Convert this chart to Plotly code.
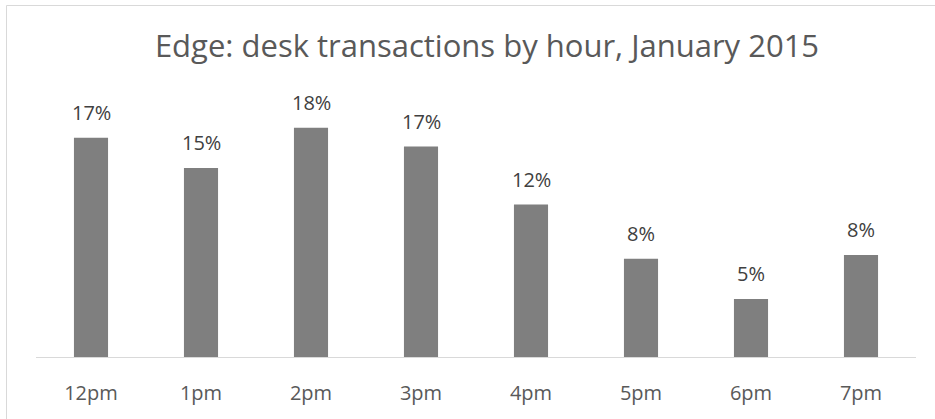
import plotly.graph_objects as go

hours = ["12pm", "1pm", "2pm", "3pm", "4pm", "5pm", "6pm", "7pm"]
shares = [0.174, 0.150, 0.182, 0.167, 0.121, 0.078, 0.046, 0.081]
title_text = "Edge: desk transactions by hour, January 2015"

W, H = 935, 419
L, R, T, B = 36, 19, 105, 62
pw, ph = W - L - R, H - T - B
FONT = "Open Sans"

fig = go.Figure(go.Bar(x=hours, y=shares, marker=dict(color="#7f7f7f", line=dict(width=0)),
                       hoverinfo="skip"))

for h, s in zip(hours, shares):
    fig.add_annotation(x=h, y=s, text=f"{s:.0%}", showarrow=False, yanchor="bottom",
                       yshift=10, font=dict(family=FONT, size=20, color="#404040"))

# outer chart border (left/top visible)
fig.add_shape(type="rect", xref="paper", yref="paper",
              x0=(6.5 - L) / pw, x1=(W + 20 - L) / pw,
              y0=(H - B - (H + 20)) / ph, y1=(H - B - 5.5) / ph,
              line=dict(color="#d9d9d9", width=1), fillcolor="rgba(0,0,0,0)", layer="below")

fig.update_layout(
    width=W, height=H,
    margin=dict(l=L, r=R, t=T, b=B),
    paper_bgcolor="white", plot_bgcolor="white",
    bargap=0.69,
    showlegend=False,
    title=dict(text=title_text, x=487 / W, xanchor="center", xref="container",
               y=1 - 46 / H, yanchor="middle", yref="container",
               font=dict(family=FONT, size=31, color="#595959")),
    xaxis=dict(showline=True, linecolor="#d9d9d9", linewidth=1, ticks="outside",
               ticklen=18, tickcolor="rgba(0,0,0,0)", showgrid=False,
               tickfont=dict(family=FONT, size=20, color="#595959")),
    yaxis=dict(visible=False, range=[0, 0.20], showgrid=False, zeroline=False),
)

fig.write_html("out.html", config={"displayModeBar": False},
               post_script="document.body.style.margin='0';")
